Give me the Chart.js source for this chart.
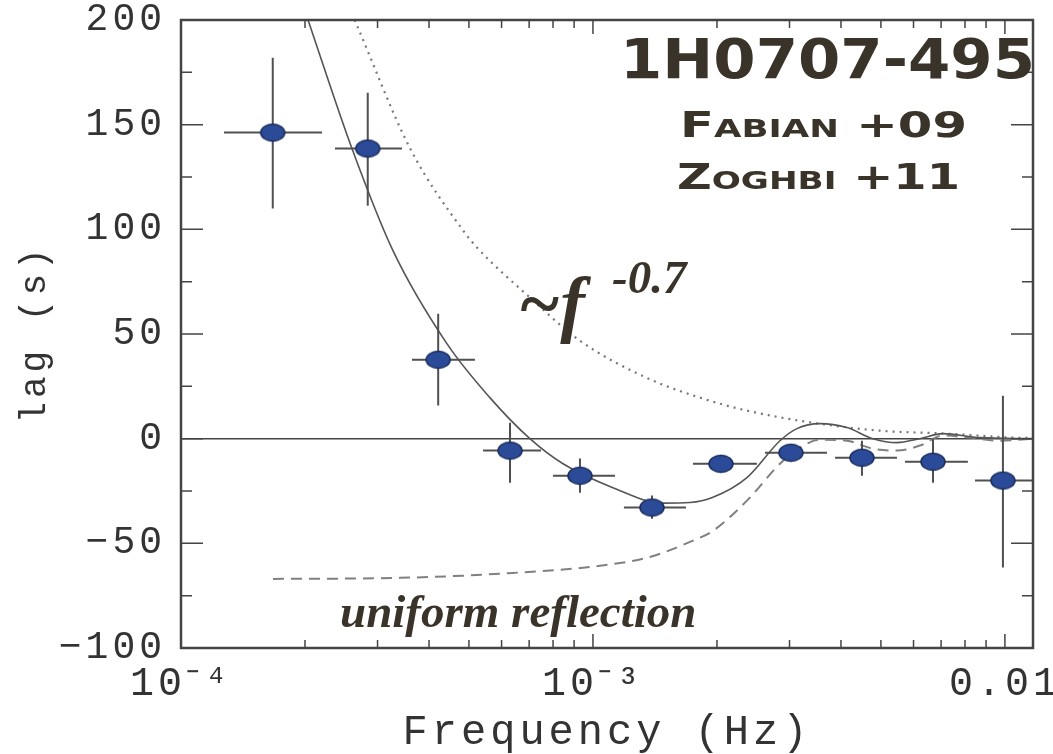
<!DOCTYPE html>
<html>
<head>
<meta charset="utf-8">
<title>1H0707-495 lag spectrum</title>
<script src="https://cdn.jsdelivr.net/npm/chart.js@4.4.1/dist/chart.umd.min.js"></script>
<style>
  body { margin: 0; background: #fff; }
  #wrap { width: 1053px; height: 754px; }
</style>
</head>
<body>
<div id="wrap"><canvas id="lagChart" width="1053" height="754"></canvas></div>
<script>
// lag per frequency bin, with bin widths and 1-sigma errors
const binFreq = [1.67e-4, 2.84e-4, 4.21e-4, 6.29e-4, 9.30e-4, 1.391e-3, 2.045e-3, 3.024e-3, 4.498e-3, 6.69e-3, 9.89e-3];
const binLag  = [146.2, 138.6, 37.7, -5.7, -17.7, -32.9, -12.0, -6.7, -9.1, -11.0, -20.0];
const freqLo  = [1.272e-4, 2.365e-4, 3.637e-4, 5.41e-4, 8.0e-4, 1.189e-3, 1.749e-3, 2.616e-3, 3.87e-3, 5.72e-3, 8.46e-3];
const freqHi  = [2.199e-4, 3.44e-4, 5.17e-4, 7.48e-4, 1.131e-3, 1.682e-3, 2.50e-3, 3.70e-3, 5.47e-3, 8.13e-3, 1.17e-2];
const lagLo   = [110, 111.3, 15.8, -21, -25.8, -38.2, -15, -10, -17.7, -21, -61.6];
const lagHi   = [182, 165.3, 59.7, 7.6, -9.5, -27.2, -9, -3.5, -1, 0, 20.5];

// best-fit model (solid)
const modelFreq = [2.034e-4, 2.60e-4, 3.27e-4, 4.42e-4, 5.62e-4, 7.03e-4, 8.46e-4, 1.118e-3, 1.479e-3, 1.72e-3, 1.956e-3, 2.365e-3, 2.844e-3, 3.127e-3, 3.556e-3, 4.136e-3, 4.783e-3, 5.47e-3, 6.22e-3, 7.07e-3, 8.70e-3, 1.17e-2];
const modelLag  = [200, 138.6, 89.8, 45.4, 19.6, 0, -12, -23.4, -30.8, -30.5, -28, -18.6, -1, 4.8, 7.2, 5.3, 0, -1.9, 0, 2.4, 0.5, 0];

// uniform reflection model (dashed)
const reflFreq = [1.672e-4, 3.40e-4, 5.95e-4, 1.04e-3, 1.375e-3, 1.749e-3, 1.956e-3, 2.365e-3, 2.844e-3, 3.18e-3, 3.556e-3, 4.136e-3, 4.783e-3, 5.47e-3, 6.22e-3, 7.07e-3, 8.22e-3, 9.72e-3, 1.17e-2];
const reflLag  = [-67, -66.5, -64.5, -60.7, -56.5, -48.7, -44, -29.6, -12, -4.3, -0.5, -1, -4.8, -5.7, -3.3, 1.5, 0.5, -1, 0];

// power-law lag (dotted)
const powFreq = [2.64e-4, 3.60e-4, 4.84e-4, 5.23e-4, 7.03e-4, 9.30e-4, 1.352e-3, 1.818e-3, 2.365e-3, 3.42e-3, 4.974e-3, 7.23e-3, 1.046e-2, 1.17e-2];
const powLag  = [200, 138.6, 99.4, 91.3, 67.4, 46.8, 29, 19.6, 13.4, 7.6, 3.8, 2.4, 0.5, 0.3];

const xLabelTicks = [1e-4, 1e-3, 1e-2];
const xTickLabels = ['10\u207B\u2074', '10\u207B\u00B3', '0.01'];
const xDecades = [-4, -3, -2];
const yMinorStep = 25;

const ink = '#3a3329';
const pairs = (xs, ys) => xs.map((x, i) => ({x: x, y: ys[i]}));

// blue elliptical marker
const marker = document.createElement('canvas');
marker.width = 28; marker.height = 20;
(function () {
  const c = marker.getContext('2d');
  c.beginPath();
  c.ellipse(14, 10, 12, 8.5, 0, 0, Math.PI * 2);
  c.fillStyle = '#2b4b98';
  c.fill();
  c.lineWidth = 1.5;
  c.strokeStyle = '#1b2d5c';
  c.stroke();
})();

function wideText(ctx, txt, x, baseline, width, font) {
  ctx.save();
  ctx.font = font;
  const w = ctx.measureText(txt).width;
  ctx.translate(x, baseline);
  ctx.scale(width / w, 1);
  ctx.fillText(txt, 0, 0);
  ctx.restore();
}

// keep the plot box fixed: no extra room for overhanging tick labels
function noOverhang(s) {
  s.paddingTop = 0; s.paddingBottom = 0;
  s.paddingLeft = 0; s.paddingRight = 0;
}

const framePlugin = {
  id: 'frame',
  beforeDraw(chart) {
    chart.ctx.letterSpacing = '4px';
  },
  beforeDatasetsDraw(chart) {
    const {ctx, chartArea: a, scales: {y}} = chart;
    ctx.save();
    ctx.strokeStyle = '#444';
    ctx.lineWidth = 1.5;
    const y0 = y.getPixelForValue(0);
    ctx.beginPath();
    ctx.moveTo(a.left, y0);
    ctx.lineTo(a.right, y0);
    ctx.stroke();
    ctx.restore();
  },
  beforeDatasetDraw(chart, args) {
    if (args.index !== 0) return;
    const {ctx, scales: {x, y}} = chart;
    ctx.save();
    ctx.strokeStyle = '#505050';
    ctx.lineWidth = 2;
    binFreq.forEach((f, i) => {
      const px = x.getPixelForValue(f), py = y.getPixelForValue(binLag[i]);
      ctx.beginPath();
      ctx.moveTo(x.getPixelForValue(freqLo[i]), py);
      ctx.lineTo(Math.min(x.getPixelForValue(freqHi[i]), chart.chartArea.right), py);
      ctx.moveTo(px, y.getPixelForValue(lagLo[i]));
      ctx.lineTo(px, y.getPixelForValue(lagHi[i]));
      ctx.stroke();
    });
    ctx.restore();
  },
  afterDraw(chart) {
    const {ctx, chartArea: a, scales: {x, y}} = chart;
    ctx.save();
    ctx.letterSpacing = '0px';
    ctx.strokeStyle = '#444';
    ctx.lineWidth = 1.5;
    // inward ticks on all four sides
    ctx.beginPath();
    xDecades.forEach(d => {
      for (let k = 1; k <= 9; k++) {
        const v = k * Math.pow(10, d);
        if (v < x.min || v > x.max) continue;
        const px = x.getPixelForValue(v);
        const len = k === 1 ? 14 : 8;
        ctx.moveTo(px, a.bottom); ctx.lineTo(px, a.bottom - len);
        ctx.moveTo(px, a.top); ctx.lineTo(px, a.top + len);
      }
    });
    for (let v = y.min; v <= y.max; v += yMinorStep) {
      const py = y.getPixelForValue(v);
      const len = v % 50 === 0 ? 22 : 11;
      ctx.moveTo(a.left, py); ctx.lineTo(a.left + len, py);
      ctx.moveTo(a.right, py); ctx.lineTo(a.right - len, py);
    }
    ctx.stroke();
    ctx.lineWidth = 2.5;
    ctx.strokeRect(a.left, a.top, a.right - a.left, a.bottom - a.top);

    // annotations
    ctx.fillStyle = ink;
    ctx.textBaseline = 'alphabetic';
    wideText(ctx, '1H0707-495', 620, 78, 415, 'bold 55px "DejaVu Sans"');
    wideText(ctx, 'Fabian +09', 680, 137, 287, 'small-caps bold 35px "DejaVu Sans"');
    wideText(ctx, 'Zoghbi +11', 677, 189, 283, 'small-caps bold 35px "DejaVu Sans"');
    ctx.font = 'italic bold 74px "Liberation Serif"';
    ctx.fillText('~f', 518, 328);
    ctx.font = 'italic bold 47px "Liberation Serif"';
    ctx.fillText('-0.7', 612, 293);
    ctx.font = 'italic bold 47px "Liberation Serif"';
    ctx.fillText('uniform reflection', 340, 627);
    ctx.restore();
  }
};

new Chart(document.getElementById('lagChart'), {
  data: {
    datasets: [
      {
        type: 'scatter',
        data: pairs(binFreq, binLag),
        pointStyle: marker,
        order: 0
      },
      {
        type: 'line',
        data: pairs(modelFreq, modelLag),
        borderColor: '#555',
        borderWidth: 1.6,
        pointRadius: 0,
        cubicInterpolationMode: 'monotone',
        order: 1
      },
      {
        type: 'line',
        data: pairs(reflFreq, reflLag),
        borderColor: '#808080',
        borderWidth: 2,
        borderDash: [11, 7],
        pointRadius: 0,
        cubicInterpolationMode: 'monotone',
        order: 2
      },
      {
        type: 'line',
        data: pairs(powFreq, powLag),
        borderColor: '#777',
        borderWidth: 2.2,
        borderDash: [2, 5],
        pointRadius: 0,
        cubicInterpolationMode: 'monotone',
        order: 3
      }
    ]
  },
  options: {
    responsive: false,
    animation: false,
    events: [],
    layout: {padding: {top: 20, right: 20, left: 0, bottom: 0}},
    plugins: {legend: {display: false}, tooltip: {enabled: false}},
    scales: {
      x: {
        type: 'logarithmic',
        min: 1e-4,
        max: 0.0117,
        grid: {display: false, drawTicks: false},
        border: {display: false},
        afterBuildTicks: s => { s.ticks = xLabelTicks.map(v => ({value: v})); },
        afterFit: s => { s.height = 106; noOverhang(s); },
        ticks: {
          autoSkip: false,
          maxRotation: 0,
          padding: 12,
          color: '#333',
          font: {family: '"Liberation Mono"', size: 40},
          callback: v => xTickLabels[xLabelTicks.indexOf(v)] ?? ''
        },
        title: {
          display: true,
          text: 'Frequency (Hz)',
          color: '#333',
          padding: {top: 0, bottom: 0},
          font: {family: '"Liberation Mono"', size: 42, lineHeight: 1}
        }
      },
      y: {
        min: -100,
        max: 200,
        grid: {display: false, drawTicks: false},
        border: {display: false},
        afterFit: s => { s.width = 181; noOverhang(s); },
        ticks: {
          stepSize: 50,
          padding: 15,
          color: '#333',
          font: {family: '"Liberation Mono"', size: 38},
          callback: v => v < 0 ? '\u2212' + (-v) : '' + v
        },
        title: {
          display: true,
          text: 'lag (s)',
          color: '#333',
          padding: {top: 17, bottom: 0},
          font: {family: '"Liberation Mono"', size: 36, lineHeight: 1}
        }
      }
    }
  },
  plugins: [framePlugin]
});
</script>
</body>
</html>
